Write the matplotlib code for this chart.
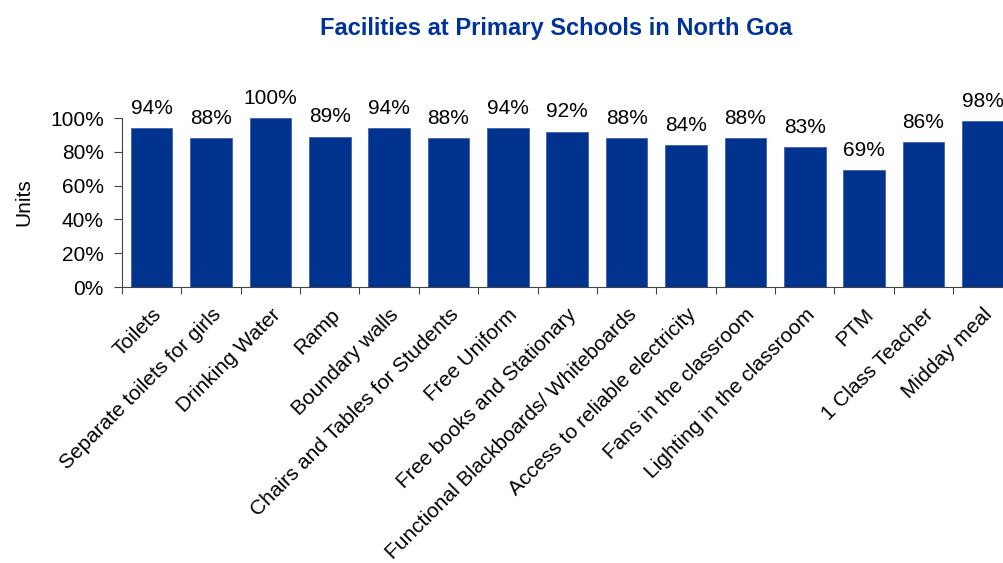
import numpy as np
import matplotlib.pyplot as plt
from matplotlib.ticker import PercentFormatter

plt.rcParams['font.family'] = ['Liberation Sans', 'DejaVu Sans']

# Data
facilities = ['Toilets', 'Separate toilets for girls', 'Drinking Water', 'Ramp',
              'Boundary walls', 'Chairs and Tables for Students', 'Free Uniform',
              'Free books and Stationary', 'Functional Blackboards/ Whiteboards',
              'Access to reliable electricity', 'Fans in the classroom',
              'Lighting in the classroom', 'PTM', '1 Class Teacher', 'Midday meal']
share = [94, 88, 100, 89, 94, 88, 94, 92, 88, 84, 88, 83, 69, 86, 98]

bar_color = '#00338D'
title_color = '#003399'

fig = plt.figure(figsize=(10.04, 5.63), dpi=100)
ax = fig.add_axes([0.1215, 0.4902, 0.887, 0.3002])

x = np.arange(len(facilities))
values = np.array(share) / 100
ax.bar(x, values, width=0.7, color=bar_color, edgecolor='#3355aa', linewidth=0.5)

# Value labels above bars
for xi, v in zip(x, share):
    ax.text(xi, v / 100 + 0.06, f'{v}%', ha='center', va='bottom', fontsize=15)

ax.set_xlim(-0.5, len(facilities) - 0.5)
ax.set_ylim(0, 1.0)
ax.set_yticks(np.arange(0, 1.01, 0.2))
ax.yaxis.set_major_formatter(PercentFormatter(1.0, decimals=0))
ax.tick_params(axis='y', labelsize=15, length=6, color='#444444', pad=7)

# Category ticks sit between bars, labels at the bar centers
ax.set_xticks(np.arange(-0.5, len(facilities), 1.0))
ax.set_xticklabels([])
ax.tick_params(axis='x', length=5, color='#444444')
ax.set_xticks(x, minor=True)
ax.set_xticklabels(facilities, minor=True, rotation=45, ha='right',
                   rotation_mode='anchor', fontsize=15)
ax.tick_params(axis='x', which='minor', length=0, pad=13)

for side in ['top', 'right']:
    ax.spines[side].set_visible(False)
for side in ['left', 'bottom']:
    ax.spines[side].set_color('#444444')

ax.set_ylabel('Units', fontsize=15, labelpad=12)
fig.text(0.554, 0.949, 'Facilities at Primary Schools in North Goa', ha='center',
         va='center', fontsize=17, fontweight='bold', color=title_color)

fig.savefig('out.png', dpi=100)
